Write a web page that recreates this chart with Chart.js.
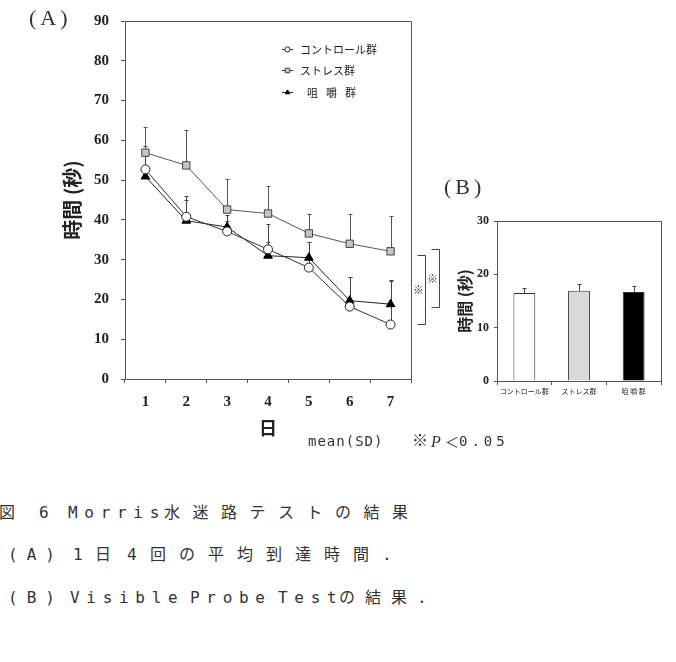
<!DOCTYPE html>
<html>
<head>
<meta charset="utf-8">
<script src="https://cdn.jsdelivr.net/npm/chart.js@4.4.1/dist/chart.umd.min.js"></script>
<style>
body { margin: 0; background: #fff; width: 676px; height: 662px; position: relative; overflow: hidden; color: #222; }
canvas { position: absolute; }
#chartA { left: 0; top: 0; }
#chartB { left: 420px; top: 170px; }
.t { position: absolute; white-space: pre; font: 15px/15px "DejaVu Sans Mono", "Noto Sans CJK JP", monospace; color: #333; }
.c { position: absolute; white-space: pre; font: 16px/16px "DejaVu Sans Mono", "Noto Sans CJK JP", monospace; color: #333; }
.lat { letter-spacing: 6.7px; }
.cjk { letter-spacing: 10px; }
.lbl { position: absolute; white-space: pre; font: 22px/22px "Liberation Serif", serif; letter-spacing: 4px; color: #333; }
</style>
</head>
<body>
<canvas id="chartA" width="450" height="445"></canvas>
<canvas id="chartB" width="256" height="240"></canvas>

<div class="lbl" style="left:29px;top:7px">(A)</div>
<div class="lbl" style="left:444px;top:176px">(B)</div>

<div class="t" style="left:308px;top:434px;font-size:14px;letter-spacing:1px">mean(SD)</div>
<div class="t" style="left:412px;top:433px;font-size:16px">※</div>
<div class="t" style="left:431px;top:434px;font:italic 16px/15px 'Liberation Serif'">P</div>
<div class="t" style="left:445px;top:435px;font-size:14px">＜</div>
<div class="t" style="left:459px;top:434px;font-size:14px;letter-spacing:4px">0.05</div>

<div class="c" style="left:-1px;top:505px">図</div>
<div class="c" style="left:39px;top:505px">6</div>
<div class="c lat" style="left:68px;top:505px">Morris</div>
<div class="c cjk" style="left:164px;top:505px;letter-spacing:12.5px">水迷路テストの結果</div>

<div class="c" style="left:8px;top:547px;letter-spacing:9px">(A)</div>
<div class="c" style="left:73px;top:547px">1</div>
<div class="c" style="left:95px;top:547px">日</div>
<div class="c" style="left:127px;top:547px">4</div>
<div class="c cjk" style="left:150px;top:547px;letter-spacing:13px">回の平均到達時間.</div>

<div class="c" style="left:8px;top:590px;letter-spacing:9px">(B)</div>
<div class="c lat" style="left:70px;top:590px">Visible</div>
<div class="c lat" style="left:190px;top:590px">Probe</div>
<div class="c lat" style="left:278px;top:590px">Test</div>
<div class="c cjk" style="left:339px;top:590px">の結果.</div>

<script>
// (A) mean arrival time per day
const days = ['1', '2', '3', '4', '5', '6', '7']
const controlMean = [52.7, 40.8, 37.1, 32.6, 28.0, 18.2, 13.7]
const controlSD = [5.9, 5.3, 2.5, 6.4, 6.5, 7.4, 11.0]
const stressMean = [56.9, 53.7, 42.6, 41.6, 36.6, 34.0, 32.1]
const stressSD = [6.5, 9.0, 7.8, 7.0, 5.0, 7.5, 8.8]
const chewMean = [50.9, 39.8, 38.2, 31.0, 30.5, 19.7, 18.8]
const chewSD = [2.0, 5.3, 3.0, 3.5, 4.0, 5.9, 6.0]
const legendNames = ['コントロール群', 'ストレス群', '咀嚼群']
// significance brackets on day 7 (value range)
const sigRanges = [[31.2, 13.9], [32.7, 18.0]]

// (B) visible probe test
const groups = ['コントロール群', 'ストレス群', '咀 嚼 群']
const probeMean = [16.5, 16.9, 16.7]
const probeSD = [0.9, 1.3, 1.2]

const tickFont = { family: 'Liberation Serif', size: 15, weight: 'bold' }
const axisColor = '#555'

const errorBars = {
    id: 'errorBars',
    beforeDatasetsDraw(chart) {
        const { ctx, scales: { y } } = chart
        chart.data.datasets.forEach((ds, i) => {
            if (!ds.sd) return
            const meta = chart.getDatasetMeta(i)
            ctx.save()
            ctx.strokeStyle = ds.errColor || '#444'
            ctx.lineWidth = 1
            meta.data.forEach((el, j) => {
                const top = Math.round(y.getPixelForValue(ds.data[j] + ds.sd[j])) + 0.5
                const x = Math.round(el.x) + 0.5
                ctx.beginPath()
                ctx.moveTo(x, el.y)
                ctx.lineTo(x, top)
                ctx.moveTo(x - 2, top)
                ctx.lineTo(x + 2, top)
                ctx.stroke()
            })
            ctx.restore()
        })
    }
}

const frame = {
    id: 'frame',
    afterDraw(chart) {
        const { ctx, chartArea: a } = chart
        ctx.save()
        ctx.strokeStyle = axisColor
        ctx.lineWidth = 1
        ctx.beginPath()
        ctx.moveTo(Math.round(a.left) + 0.5, Math.round(a.top) + 0.5)
        ctx.lineTo(Math.round(a.right) + 0.5, Math.round(a.top) + 0.5)
        ctx.lineTo(Math.round(a.right) + 0.5, Math.round(a.bottom) + 0.5)
        ctx.stroke()
        ctx.restore()
    }
}

const legendA = {
    id: 'legendA',
    afterDraw(chart) {
        const { ctx, chartArea: a } = chart
        const rowsY = [49, 70, 92]
        ctx.save()
        chart.data.datasets.forEach((ds, i) => {
            const y = rowsY[i] + 0.5
            const x0 = a.left + 157
            ctx.strokeStyle = '#333'
            ctx.lineWidth = 1
            ctx.beginPath()
            ctx.moveTo(x0, y)
            ctx.lineTo(x0 + 11, y)
            ctx.stroke()
            ctx.fillStyle = ds.pointBackgroundColor
            ctx.strokeStyle = ds.pointBorderColor
            Chart.helpers.drawPoint(ctx, {
                pointStyle: ds.pointStyle,
                radius: ds.pointStyle === 'rect' ? 3.2 : 2.6,
                rotation: 0,
                borderWidth: 1
            }, x0 + 5.5, y)
            ctx.fillStyle = '#222'
            ctx.font = '11px "Noto Sans CJK JP"'
            ctx.textBaseline = 'middle'
            if (i === 2) {
                // spaced-out label as in the original
                Array.from(legendNames[i]).forEach((ch, k) => ctx.fillText(ch, x0 + 25 + k * 19, y + 0.5))
            } else {
                ctx.fillText(legendNames[i], x0 + 18, y + 0.5)
            }
        })
        ctx.restore()
    }
}

const sigMarks = {
    id: 'sigMarks',
    afterDraw(chart) {
        const { ctx, chartArea: a, scales: { y } } = chart
        ctx.save()
        ctx.strokeStyle = '#444'
        ctx.fillStyle = '#333'
        ctx.lineWidth = 1
        ctx.font = '11px "Noto Sans CJK JP"'
        ctx.textAlign = 'center'
        ctx.textBaseline = 'middle'
        sigRanges.forEach(([hi, lo], k) => {
            const x = Math.round(a.right) + 14 + k * 14 + 0.5
            const y1 = Math.round(y.getPixelForValue(hi)) + 0.5
            const y2 = Math.round(y.getPixelForValue(lo)) + 0.5
            ctx.beginPath()
            ctx.moveTo(x - 8, y1)
            ctx.lineTo(x, y1)
            ctx.lineTo(x, y2)
            ctx.lineTo(x - 8, y2)
            ctx.stroke()
            ctx.fillText('※', x - 7, (y1 + y2) / 2)
        })
        ctx.restore()
    }
}

new Chart(document.getElementById('chartA'), {
    type: 'line',
    data: {
        labels: days,
        datasets: [
            {
                label: legendNames[0], data: controlMean, sd: controlSD,
                borderColor: '#333', borderWidth: 1,
                pointStyle: 'circle', pointRadius: 4.5,
                pointBackgroundColor: '#fff', pointBorderColor: '#222', pointBorderWidth: 1
            },
            {
                label: legendNames[1], data: stressMean, sd: stressSD, errColor: '#555',
                borderColor: '#555', borderWidth: 1,
                pointStyle: 'rect', pointRadius: 5.2,
                pointBackgroundColor: '#c4c4c4', pointBorderColor: '#444', pointBorderWidth: 1
            },
            {
                label: legendNames[2], data: chewMean, sd: chewSD,
                borderColor: '#222', borderWidth: 1,
                pointStyle: 'triangle', pointRadius: 5,
                pointBackgroundColor: '#000', pointBorderColor: '#000', pointBorderWidth: 1
            }
        ]
    },
    options: {
        responsive: false,
        animation: false,
        layout: { padding: { top: 15, right: 39, left: 0, bottom: 0 } },
        plugins: { legend: { display: false }, tooltip: { enabled: false } },
        scales: {
            x: {
                offset: true,
                grid: { offset: true, drawOnChartArea: false, tickLength: 4, color: axisColor },
                border: { color: axisColor },
                ticks: { padding: 10, color: '#222', font: tickFont },
                title: {
                    display: true, text: '日', color: '#222',
                    font: { family: 'Noto Sans CJK JP', size: 18, weight: 'bold' },
                    padding: { top: 0, bottom: 6 }
                },
                afterFit(s) { s.height = 66 }
            },
            y: {
                min: 0, max: 90,
                grid: { drawOnChartArea: false, tickLength: 4, color: axisColor },
                border: { color: axisColor },
                ticks: { stepSize: 10, padding: 12, color: '#222', font: tickFont },
                title: {
                    display: true, text: '時間 (秒)', color: '#222',
                    font: { family: 'Noto Sans CJK JP', size: 20, weight: 'bold' },
                    padding: { top: 60, bottom: 0 }
                },
                afterFit(s) { s.width = 125 }
            }
        }
    },
    plugins: [errorBars, frame, legendA, sigMarks]
})

new Chart(document.getElementById('chartB'), {
    type: 'bar',
    data: {
        labels: groups,
        datasets: [{
            data: probeMean, sd: probeSD,
            backgroundColor: ['#ffffff', '#d9d9d9', '#000000'],
            borderColor: '#333', borderWidth: 1,
            barPercentage: 0.4, categoryPercentage: 1
        }]
    },
    options: {
        responsive: false,
        animation: false,
        layout: { padding: { top: 51, right: 15, left: 0, bottom: 0 } },
        plugins: { legend: { display: false }, tooltip: { enabled: false } },
        scales: {
            x: {
                grid: { drawOnChartArea: false, tickLength: 4, color: axisColor },
                border: { color: axisColor },
                ticks: {
                    padding: 2, color: '#222', maxRotation: 0, minRotation: 0, autoSkip: false,
                    font: { family: 'Noto Sans CJK JP', size: 7 }
                },
                afterFit(s) { s.height = 29 }
            },
            y: {
                min: 0, max: 30,
                grid: { drawOnChartArea: false, tickLength: 3, color: axisColor },
                border: { color: axisColor },
                ticks: { stepSize: 10, padding: 5, color: '#222', font: { family: 'Liberation Serif', size: 12, weight: 'bold' } },
                title: {
                    display: true, text: '時間 (秒)', color: '#222',
                    font: { family: 'Noto Sans CJK JP', size: 16, weight: 'bold' },
                    padding: { top: 35, bottom: 0 }
                },
                afterFit(s) { s.width = 77 }
            }
        }
    },
    plugins: [errorBars, frame]
})
</script>
</body>
</html>
